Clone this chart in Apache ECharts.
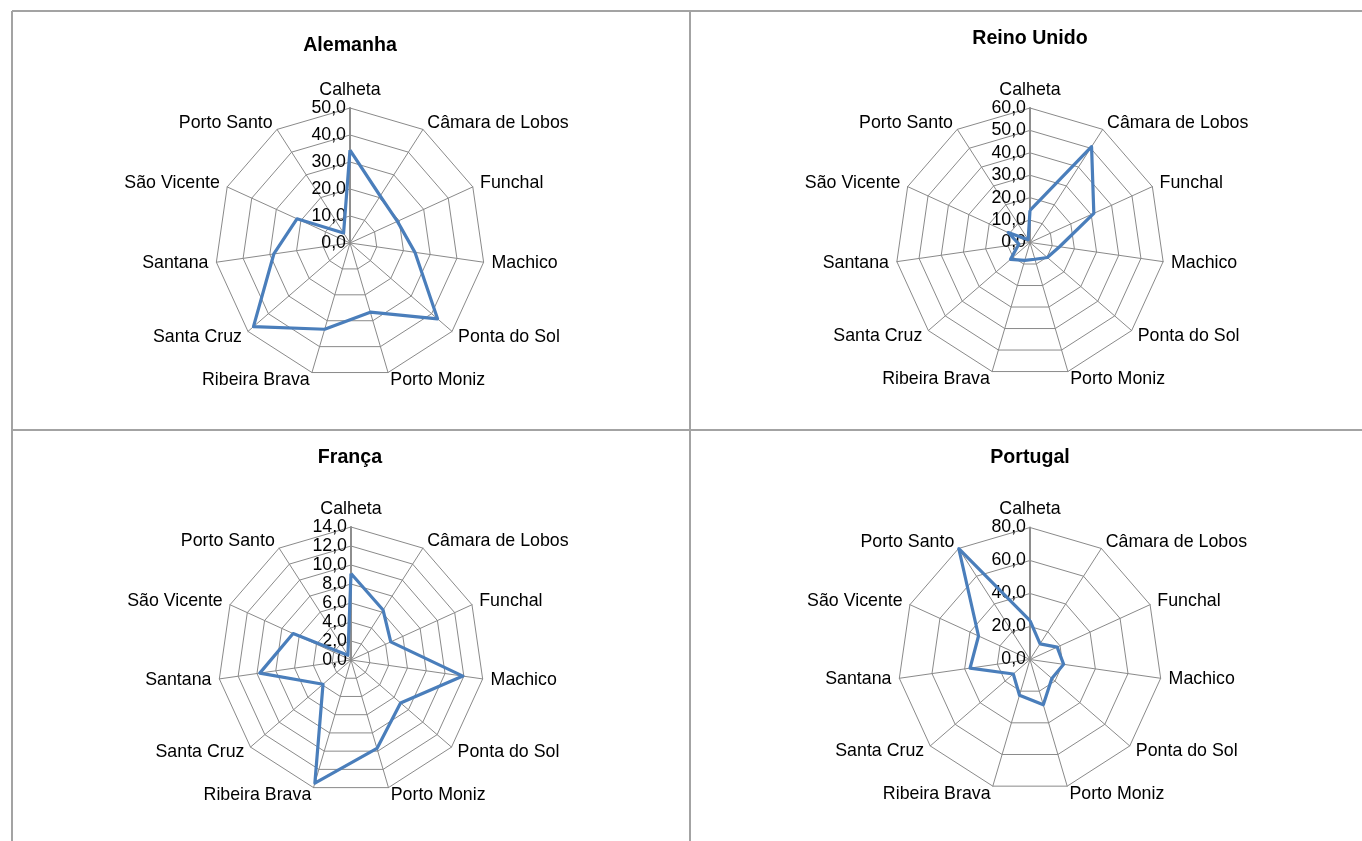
<!DOCTYPE html>
<html>
<head>
<meta charset="utf-8">
<script src="https://cdn.jsdelivr.net/npm/echarts@6/dist/echarts.min.js"></script>
<style>
html,body{margin:0;padding:0;background:#fff;}
#chart{width:1362px;height:841px;}
</style>
</head>
<body>
<div id="chart"></div>
<script>
// Categories (clockwise from top, as in the reference)
const categories = ['Calheta','Câmara de Lobos','Funchal','Machico','Ponta do Sol','Porto Moniz','Ribeira Brava','Santa Cruz','Santana','São Vicente','Porto Santo'];

// Panel titles
const titles = ['Alemanha','Reino Unido','França','Portugal'];

// Series values per panel (same order as categories)
const alemanha   = [34.4, 20.7, 19.3, 24.3, 42.9, 26.7, 33.3, 47.3, 28.5, 21.6, 4.4];
const reinoUnido = [14.3, 50.8, 31.3, 13.3, 10.2, 7.8, 8.3, 11.5, 5.0, 10.7, 1.5];
const franca     = [9.1, 6.25, 4.6, 11.9, 6.9, 9.7, 13.5, 3.9, 9.7, 6.7, 0.6];
const portugal   = [23.5, 11.3, 18.1, 20.6, 17.5, 28.6, 22.6, 13.4, 36.7, 34.3, 79.8];

// Axis scales (max and number of rings)
const axisMax   = [50, 60, 14, 80];
const axisSplit = [5, 6, 7, 4];

const panelValues = [alemanha, reinoUnido, franca, portugal];

// Layout
const centers = [[350, 243], [1030, 242.5], [351, 660], [1030, 659.5]];
const radii = [135, 134.5, 133, 132];
const titlePos = [[350, 36], [1030, 29], [350, 448], [1030, 448]];

const FONT = 'Liberation Sans, Arial, sans-serif';
const GRID = '#8a8a8a';
const LINE = '#4a7ebb';
const FS = 17.8;

// ECharts lays indicators counter-clockwise; reorder so they read clockwise
const order = [0];
for (let i = categories.length - 1; i >= 1; i--) order.push(i);

const fmt = v => v.toFixed(1).replace('.', ',');

const radar = [], series = [], title = [];
for (let p = 0; p < 4; p++) {
  radar.push({
    center: centers[p],
    radius: radii[p],
    startAngle: 90,
    shape: 'polygon',
    splitNumber: axisSplit[p],
    axisNameGap: 8,
    nameGap: 8,
    axisName: { color: '#000', fontSize: FS, fontFamily: FONT },
    splitArea: { show: false },
    splitLine: { lineStyle: { color: GRID, width: 1 } },
    axisLine: { lineStyle: { color: GRID, width: 1 } },
    axisTick: { show: false },
    axisLabel: { show: false },
    indicator: order.map((ci, k) => {
      const ind = { name: categories[ci], min: 0, max: axisMax[p] };
      if (k === 0) {
        ind.axisLabel = { show: true, margin: 4, color: '#000', fontSize: FS, fontFamily: FONT, formatter: fmt };
        ind.axisLine = { lineStyle: { color: '#8e8e8e', width: 2 } };
      }
      return ind;
    })
  });
  series.push({
    type: 'radar',
    radarIndex: p,
    symbol: 'none',
    silent: true,
    animation: false,
    lineStyle: { color: LINE, width: 3.2 },
    itemStyle: { color: LINE },
    data: [{ value: order.map(ci => panelValues[p][ci]), name: titles[p] }]
  });
  title.push({
    text: titles[p],
    left: titlePos[p][0],
    top: titlePos[p][1],
    padding: 0,
    textAlign: 'center',
    textStyle: { fontSize: 19.6, fontWeight: 'bold', color: '#000', fontFamily: FONT }
  });
}

const BORDER = '#a3a3a3';
const chart = echarts.init(document.getElementById('chart'), null, { renderer: 'canvas' });
chart.setOption({
  animation: false,
  backgroundColor: '#fff',
  title: title,
  radar: radar,
  series: series,
  graphic: [
    { type: 'line', shape: { x1: 12, y1: 11, x2: 1362, y2: 11 }, style: { stroke: BORDER, lineWidth: 2 }, silent: true },
    { type: 'line', shape: { x1: 12, y1: 11, x2: 12, y2: 841 }, style: { stroke: BORDER, lineWidth: 2 }, silent: true },
    { type: 'line', shape: { x1: 690, y1: 11, x2: 690, y2: 841 }, style: { stroke: BORDER, lineWidth: 2 }, silent: true },
    { type: 'line', shape: { x1: 12, y1: 430, x2: 1362, y2: 430 }, style: { stroke: BORDER, lineWidth: 2 }, silent: true }
  ]
});
</script>
</body>
</html>
